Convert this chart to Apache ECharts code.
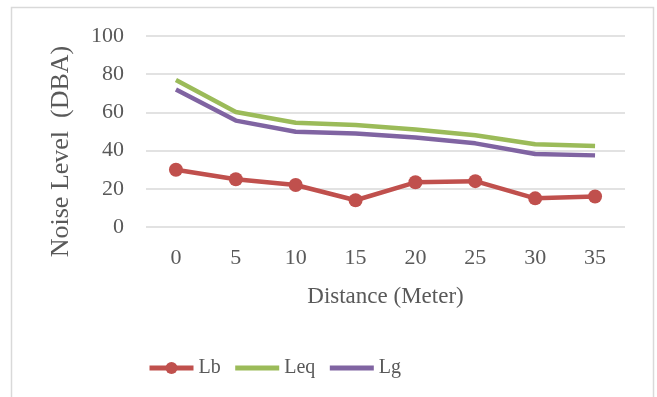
<!DOCTYPE html>
<html><head><meta charset="utf-8">
<script src="https://cdn.jsdelivr.net/npm/echarts@6/dist/echarts.min.js"></script>
<style>html,body{margin:0;padding:0;background:#fff}#c{width:657px;height:397px}</style>
</head><body><div id="c"></div>
<script>
var categories = ['0','5','10','15','20','25','30','35'];
var lb = [30, 25, 22, 14, 23.4, 24, 15, 16];
var leq = [77, 60.2, 54.6, 53.4, 51, 48, 43.3, 42.4];
var lg = [72, 55.7, 49.9, 49, 46.8, 43.8, 38.2, 37.5];
var yTicks = {min: 0, max: 100, interval: 20};
var FONT = 'Liberation Serif';
var chart = echarts.init(document.getElementById('c'));
chart.setOption({
  animation: false,
  textStyle: {fontFamily: FONT},
  graphic: [{type: 'rect', shape: {x: 11.5, y: 7.5, width: 642, height: 400}, style: {fill: 'none', stroke: '#d9d9d9', lineWidth: 1.5}}],
  grid: {left: 146, right: 32, top: 36, bottom: 170},
  legend: {
    top: 353, left: 142, itemWidth: 44, itemHeight: 15, itemGap: 12,
    textStyle: {fontFamily: FONT, fontSize: 20, color: '#595959'},
    data: [
      {name: 'Lb', lineStyle: {width: 5}},
      {name: 'Leq', lineStyle: {width: 5}, itemStyle: {opacity: 0}},
      {name: 'Lg', lineStyle: {width: 5}, itemStyle: {opacity: 0}}
    ]
  },
  xAxis: {
    type: 'category', data: categories, boundaryGap: true,
    name: 'Distance (Meter)', nameLocation: 'middle', nameGap: 58,
    nameTextStyle: {fontFamily: FONT, fontSize: 23, color: '#595959'},
    axisLine: {show: false}, axisTick: {show: false},
    axisLabel: {fontFamily: FONT, fontSize: 22, color: '#595959', margin: 20}
  },
  yAxis: {
    type: 'value', min: yTicks.min, max: yTicks.max, interval: yTicks.interval,
    name: 'Noise Level  (DBA)', nameLocation: 'middle', nameGap: 72, nameRotate: 90,
    nameTextStyle: {fontFamily: FONT, fontSize: 26, color: '#595959', padding: [0, 40, 0, 0]},
    axisLine: {show: false}, axisTick: {show: false},
    axisLabel: {fontFamily: FONT, fontSize: 22, color: '#595959', margin: 22},
    splitLine: {lineStyle: {color: '#d9d9d9', width: 1.5}}
  },
  series: [
    {name: 'Lb', type: 'line', data: lb, symbol: 'circle', symbolSize: 14,
     itemStyle: {color: '#C0504D'}, lineStyle: {color: '#C0504D', width: 4.5}},
    {name: 'Leq', type: 'line', data: leq, symbol: 'none',
     itemStyle: {color: '#9BBB59'}, lineStyle: {color: '#9BBB59', width: 4.5}},
    {name: 'Lg', type: 'line', data: lg, symbol: 'none',
     itemStyle: {color: '#8064A2'}, lineStyle: {color: '#8064A2', width: 4.5}}
  ]
});
</script></body></html>
